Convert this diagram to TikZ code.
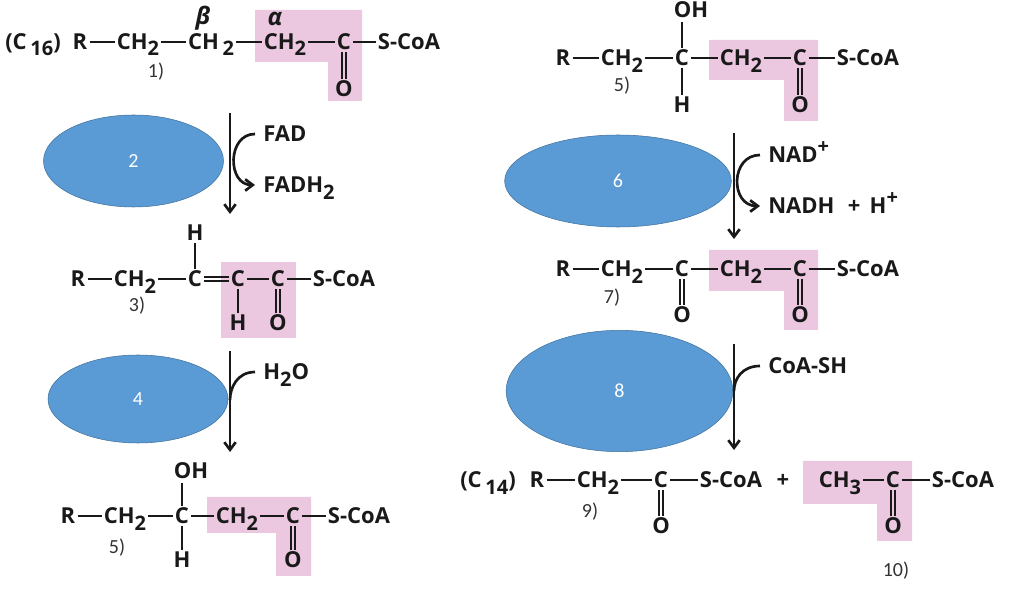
\documentclass[tikz,border=0pt]{standalone}
\usepackage{fontspec}
\setmainfont{Open Sans}
\newfontfamily\labfont{Carlito}
\usetikzlibrary{arrows.meta,shapes.geometric}
\definecolor{AcylPink}{HTML}{EBC8E0}
\definecolor{EnzBlue}{HTML}{5B9BD5}
\definecolor{EnzEdge}{HTML}{41719C}
\newcommand{\subn}[1]{\raisebox{-.5ex}{\fontsize{15}{15}\selectfont #1}}
\newcommand{\supn}[1]{\raisebox{.8ex}{\fontsize{15}{15}\selectfont #1}}
\newcommand{\vdbl}[2]{%
\draw[bond,line width=1.5pt,transform canvas={xshift=-1.7pt}] (#1)--(#2);
\draw[bond,line width=1.5pt,transform canvas={xshift=1.7pt}] (#1)--(#2);}
\begin{document}
\begin{tikzpicture}[x=0.75pt,y=-0.75pt,
atom/.style={font=\bfseries\fontsize{16.5}{17}\selectfont,inner sep=1.5pt,text height=12pt,text depth=0pt,text=black!90},
tag/.style={font=\labfont\fontsize{15}{17}\selectfont,inner sep=0pt,text=black!80},
enz/.style={ellipse,draw=EnzEdge,fill=EnzBlue,inner sep=0pt,font=\labfont\fontsize{15}{17}\selectfont,text=white},
acyl/.style={fill=AcylPink},
bond/.style={line width=2pt,black!90},
arr/.style={line width=2pt,black!90,-{Straight Barb[length=2mm,width=3mm]}},
side/.style={anchor=west,inner sep=6pt}]
\useasboundingbox (0,0) rectangle (1015,591);
\fill[acyl] (255,10)--(362,10)--(362,101)--(328,101)--(328,62)--(255,62)--cycle;
\fill[acyl] (221,262) rectangle (296,338);
\fill[acyl] (207,497)--(311,497)--(311,576)--(276,576)--(276,533)--(207,533)--cycle;
\fill[acyl] (709,40)--(818,40)--(818,121)--(784,121)--(784,80)--(709,80)--cycle;
\fill[acyl] (709,250)--(818,250)--(818,330)--(784,330)--(784,291)--(709,291)--cycle;
\fill[acyl] (803,461)--(912,461)--(912,541)--(877,541)--(877,504)--(803,504)--cycle;
\node[enz,minimum width=135pt,minimum height=69pt] (enzb) at (133.5,161) {2};
\node[enz,minimum width=135pt,minimum height=66pt] (enzd) at (138,399) {4};
\node[enz,minimum width=170pt,minimum height=69pt] (enzf) at (618,181) {6};
\node[enz,minimum width=170pt,minimum height=91pt] (enzh) at (619.5,391) {8};
\node[atom] (atail) at (33,42) {(C\,\subn{16})};
\node[atom] (ar) at (80,42) {R};
\node[atom] (aca) at (138,42) {CH\subn{2}};
\node[atom] (acb) at (211,42) {CH\,\subn{2}};
\node[atom] (acc) at (285,42) {CH\subn{2}};
\node[atom] (acd) at (344,42) {C};
\node[atom] (as) at (409,42) {S-CoA};
\node[atom] (ao) at (344,89) {O};
\node[atom,font=\bfseries\itshape\fontsize{18}{18}\selectfont] (beta) at (203,17) {β};
\node[atom,font=\bfseries\itshape\fontsize{18}{18}\selectfont] (alpha) at (275,18) {α};
\draw[bond] (ar)--(aca);
\draw[bond] (aca)--(acb);
\draw[bond] (acb)--(acc);
\draw[bond] (acc)--(acd);
\draw[bond] (acd)--(as);
\vdbl{acd}{ao}
\node[tag] (la) at (156,72) {1)};
\coordinate (sb) at (230,113);
\coordinate (eb) at (230,214);
\draw[arr] (sb)--(eb);
\node[atom,side] (fad) at (255,134) {FAD};
\node[atom,side] (fadh) at (255,185) {FADH\subn{2}};
\draw[arr] (fad.west) .. controls +(-28,0) and +(-28,0) .. (fadh.west);
\node[atom] (br) at (78,279) {R};
\node[atom] (bca) at (135,279) {CH\subn{2}};
\node[atom] (bcb) at (195,279) {C};
\node[atom] (bcc) at (238,279) {C};
\node[atom] (bcd) at (278,279) {C};
\node[atom] (bs) at (344,279) {S-CoA};
\node[atom] (bh) at (195,233) {H};
\node[atom] (bhb) at (238,323) {H};
\node[atom] (bo) at (278,323) {O};
\draw[bond] (br)--(bca);
\draw[bond] (bca)--(bcb);
\draw[bond,line width=1.5pt,transform canvas={yshift=1.7pt}] (bcb)--(bcc);
\draw[bond,line width=1.5pt,transform canvas={yshift=-1.7pt}] (bcb)--(bcc);
\draw[bond] (bcc)--(bcd);
\draw[bond] (bcd)--(bs);
\draw[bond] (bcb)--(bh);
\draw[bond] (bcc)--(bhb);
\vdbl{bcd}{bo}
\node[tag] (lb) at (137,306) {3)};
\coordinate (sc) at (230,351);
\coordinate (ec) at (230,452);
\draw[arr] (sc)--(ec);
\node[atom,side] (water) at (255,372) {H\subn{2}O};
\coordinate (wj) at (230,400);
\draw[bond] (water.west) .. controls +(-18,0) and +(0,-12) .. (wj);
\node[atom] (cr) at (68,516) {R};
\node[atom] (cca) at (125,516) {CH\subn{2}};
\node[atom] (ccb) at (182,516) {C};
\node[atom] (ccc) at (237,516) {CH\subn{2}};
\node[atom] (ccd) at (293,516) {C};
\node[atom] (cs) at (359,516) {S-CoA};
\node[atom] (coh) at (191,471) {OH};
\node[atom] (ch) at (182,560) {H};
\node[atom] (co) at (293,560) {O};
\coordinate (cohb) at (182,483);
\draw[bond] (cr)--(cca);
\draw[bond] (cca)--(ccb);
\draw[bond] (ccb)--(ccc);
\draw[bond] (ccc)--(ccd);
\draw[bond] (ccd)--(cs);
\draw[bond] (ccb)--(cohb);
\draw[bond] (ccb)--(ch);
\vdbl{ccd}{co}
\node[tag] (lc) at (117,548) {5)};
\node[atom] (dr) at (563,58) {R};
\node[atom] (dca) at (622,58) {CH\subn{2}};
\node[atom] (dcb) at (682,58) {C};
\node[atom] (dcc) at (741,58) {CH\subn{2}};
\node[atom] (dcd) at (800,58) {C};
\node[atom] (ds) at (868,58) {S-CoA};
\node[atom] (doh) at (691,10) {OH};
\node[atom] (dh) at (682,105) {H};
\node[atom] (do) at (800,105) {O};
\coordinate (dohb) at (682,22);
\draw[bond] (dr)--(dca);
\draw[bond] (dca)--(dcb);
\draw[bond] (dcb)--(dcc);
\draw[bond] (dcc)--(dcd);
\draw[bond,line width=0.8pt] (dcd)--(ds);
\draw[bond] (dcb)--(dohb);
\draw[bond] (dcb)--(dh);
\vdbl{dcd}{do}
\node[tag] (ld) at (622,86) {5)};
\coordinate (se) at (734,133);
\coordinate (ee) at (734,239);
\draw[arr] (se)--(ee);
\node[atom,side] (nad) at (760,155) {NAD\supn{+}};
\node[atom,side] (nadh) at (760,206) {NADH\hspace{10pt}+\hspace{7pt}H\supn{+}};
\draw[arr] (nad.west) .. controls +(-30,0) and +(-30,0) .. (nadh.west);
\node[atom] (er) at (563,269) {R};
\node[atom] (eca) at (622,269) {CH\subn{2}};
\node[atom] (ecb) at (682,269) {C};
\node[atom] (ecc) at (741,269) {CH\subn{2}};
\node[atom] (ecd) at (800,269) {C};
\node[atom] (es) at (868,269) {S-CoA};
\node[atom] (eoa) at (682,315) {O};
\node[atom] (eob) at (800,315) {O};
\draw[bond] (er)--(eca);
\draw[bond] (eca)--(ecb);
\draw[bond] (ecb)--(ecc);
\draw[bond] (ecc)--(ecd);
\draw[bond] (ecd)--(es);
\vdbl{ecb}{eoa}
\vdbl{ecd}{eob}
\node[tag] (le) at (612,298) {7)};
\coordinate (sf) at (734,344);
\coordinate (ef) at (734,450);
\draw[arr] (sf)--(ef);
\node[atom,side] (coash) at (760,366) {CoA-SH};
\coordinate (fj) at (734,391);
\draw[bond] (coash.west) .. controls +(-18,0) and +(0,-12) .. (fj);
\node[atom] (ftail) at (488,480) {(C\,\subn{14})};
\node[atom] (fr) at (537,480) {R};
\node[atom] (fca) at (598,480) {CH\subn{2}};
\node[atom] (fcb) at (661,480) {C};
\node[atom] (fs) at (731,480) {S-CoA};
\node[atom] (plus) at (783,480) {+};
\node[atom] (fo) at (661,526) {O};
\node[atom] (gca) at (840,480) {CH\subn{3}};
\node[atom] (gcb) at (893,480) {C};
\node[atom] (gs) at (963,480) {S-CoA};
\node[atom] (go) at (893,526) {O};
\draw[bond] (fr)--(fca);
\draw[bond] (fca)--(fcb);
\draw[bond] (fcb)--(fs);
\vdbl{fcb}{fo}
\draw[bond] (gca)--(gcb);
\draw[bond] (gcb)--(gs);
\vdbl{gcb}{go}
\node[tag] (lf) at (590,512) {9)};
\node[tag] (lg) at (896,571) {10)};
\end{tikzpicture}
\end{document}
